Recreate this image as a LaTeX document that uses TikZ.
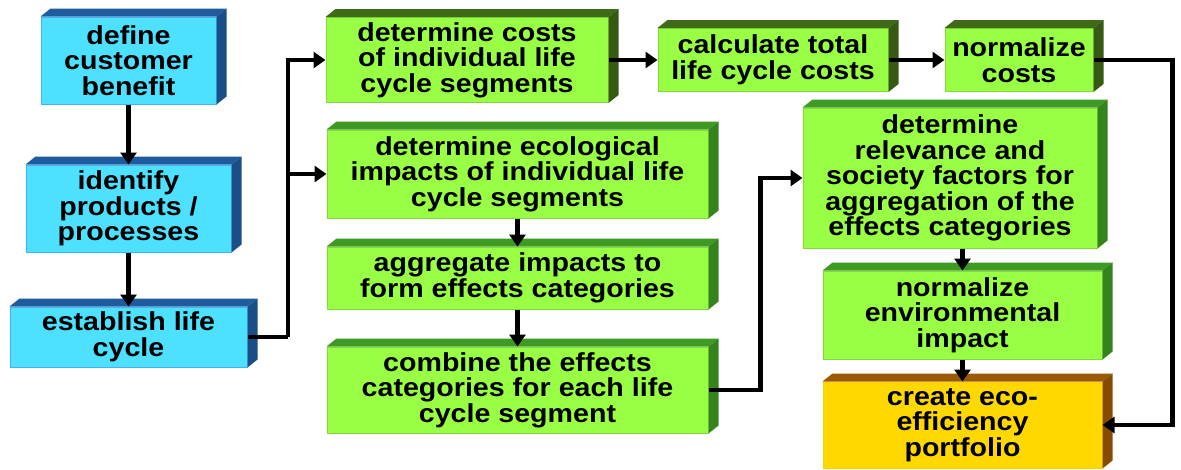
\documentclass[tikz,border=0pt]{standalone}
\usepackage{fontspec}
\setmainfont{Liberation Sans}[FakeStretch=1.1]
\usepackage{tikz}
\usetikzlibrary{arrows.meta, positioning}

\definecolor{cyanfront}{HTML}{4DE0FF}
\definecolor{cyanside}{HTML}{1F5C9E}
\definecolor{limefront}{HTML}{99FF44}
\definecolor{limeside}{HTML}{3D9A22}
\definecolor{oliveside}{HTML}{3F6A18}
\definecolor{goldfront}{HTML}{FFD800}
\definecolor{goldside}{HTML}{9C5A00}

% top and right faces of a block
\newcommand{\boxsides}[2]{%
  \fill[#2] (#1.north west) -- ++(10,-8) -- ([shift={(10,-8)}]#1.north east) -- (#1.north east) -- cycle;
  \fill[#2!85!black] (#1.north east) -- ++(10,-8) -- ([shift={(10,-8)}]#1.south east) -- (#1.south east) -- cycle;
}

\tikzset{
  block/.style={rectangle, inner sep=0pt, align=center, text=black,
    font=\fontsize{26}{25.5}\selectfont\bfseries},
  bluebox/.style={block, fill=cyanfront, draw=cyanfront!80!blue, line width=1pt},
  greenbox/.style={block, fill=limefront, draw=limefront!85!black, line width=1pt},
  goldbox/.style={block, fill=goldfront, draw=goldfront!90!orange, line width=1pt},
  flow/.style={line width=4.5pt, -{Triangle[length=12pt,width=16pt]}}
}

\begin{document}
\begin{tikzpicture}[x=1pt, y=-1pt]

	\useasboundingbox (0,0) rectangle (1181,469);

	% Lewa kolumna
	\node[bluebox, minimum width=175, minimum height=87] (define) at (128.5,60.5) {define\\customer\\benefit};
	\node[bluebox, minimum width=205, minimum height=87] (identify) at (128.5,208.5) {identify\\products /\\processes};
	\node[bluebox, minimum width=237, minimum height=60] (establish) at (128.5,337) {establish life\\cycle};

	% Srodkowa kolumna
	\node[greenbox, minimum width=282, minimum height=85] (costs) at (467,60) {determine costs\\of individual life\\cycle segments};
	\node[greenbox, minimum width=381, minimum height=88] (ecolog) at (517.5,174) {determine ecological\\impacts of individual life\\cycle segments};
	\node[greenbox, minimum width=381, minimum height=62] (aggreg) at (517.5,278) {aggregate impacts to\\form effects categories};
	\node[greenbox, minimum width=381, minimum height=86] (combine) at (517.5,390) {combine the effects\\categories for each life\\cycle segment};

	% Prawa strona
	\node[greenbox, minimum width=230, minimum height=63] (total) at (773,60) {calculate total\\life cycle costs};
	\node[greenbox, minimum width=148, minimum height=63] (normcost) at (1019,60) {normalize\\costs};
	\node[greenbox, minimum width=294, minimum height=140] (relev) at (950,178) {determine\\relevance and\\society factors for\\aggregation of the\\effects categories};
	\node[greenbox, minimum width=279, minimum height=88] (normenv) at (962.5,315) {normalize\\environmental\\impact};
	\node[goldbox, minimum width=279, minimum height=86] (portfolio) at (962.5,425) {create eco-\\efficiency\\portfolio};

	% Sciany boczne
	\boxsides{define}{cyanside}
	\boxsides{identify}{cyanside}
	\boxsides{establish}{cyanside}
	\boxsides{costs}{oliveside}
	\boxsides{total}{oliveside}
	\boxsides{normcost}{oliveside}
	\boxsides{ecolog}{limeside}
	\boxsides{aggreg}{limeside}
	\boxsides{combine}{limeside}
	\boxsides{relev}{limeside}
	\boxsides{normenv}{limeside}
	\boxsides{portfolio}{goldside}

	% Strzalki
	\draw[flow] (define) -- (identify);
	\draw[flow] (identify) -- (establish);
	\coordinate (split) at (288,337);
	\draw[line width=4.5pt] (establish.east) -- (split);
	\draw[flow] (split) |- (costs.west);
	\draw[flow] (split) |- (ecolog.west);
	\draw[flow] (costs.east) -- (total.west);
	\draw[flow] (total.east) -- (normcost.west);
	\draw[flow] (normcost.east) -- ++(79,0) |- (portfolio.east);
	\draw[flow] (ecolog) -- (aggreg);
	\draw[flow] (aggreg) -- (combine);
	\draw[flow] (combine.east) -- ++(52,0) |- (relev.west);
	\draw[flow] (relev.south -| normenv.north) -- (normenv.north);
	\draw[flow] (normenv) -- (portfolio);

\end{tikzpicture}
\end{document}
